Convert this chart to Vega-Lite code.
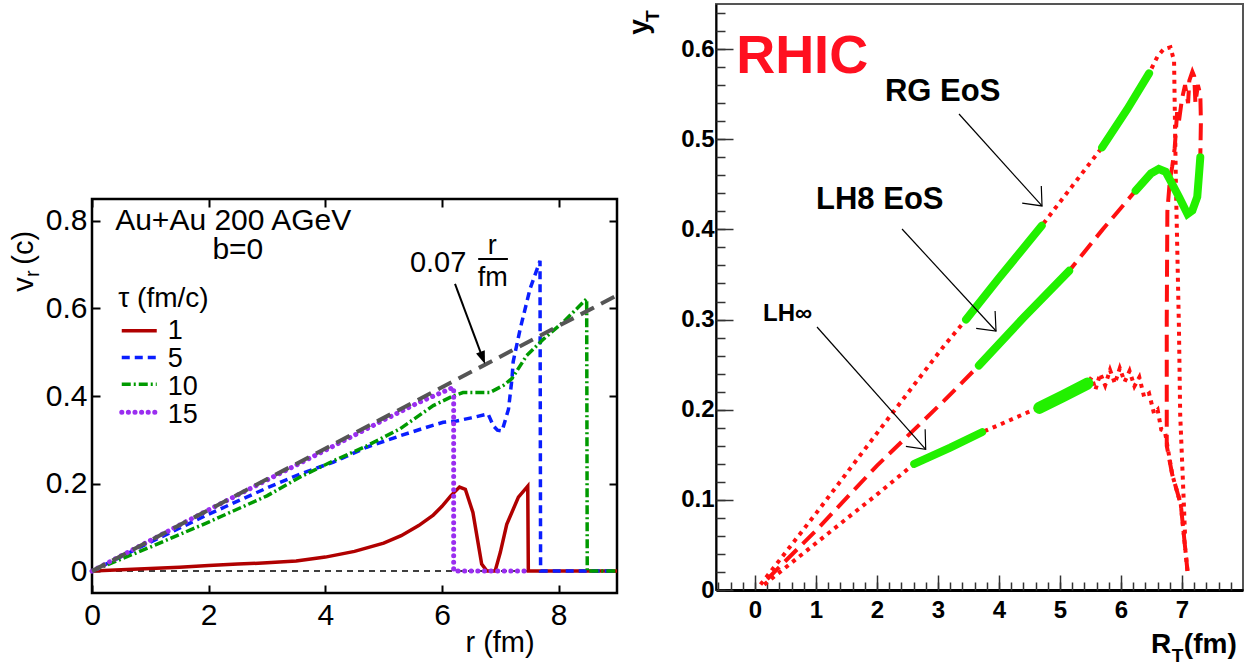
{
  "$schema": "https://vega.github.io/schema/vega-lite/v6.json",
  "background": "white",
  "padding": {"left": 8, "top": 3, "right": 0, "bottom": 0},
  "config": {"view": {"stroke": null}, "font": "Liberation Sans", "axis": {"grid": false, "labelColor": "black"}},
  "datasets": {
    "left": [
      {"s":"1","r":0,"v":0},{"s":"1","r":0.5,"v":0.003},{"s":"1","r":1,"v":0.006},{"s":"1","r":1.5,"v":0.009},{"s":"1","r":2,"v":0.013},{"s":"1","r":2.5,"v":0.016},{"s":"1","r":3,"v":0.019},{"s":"1","r":3.5,"v":0.023},{"s":"1","r":4,"v":0.032},{"s":"1","r":4.5,"v":0.045},{"s":"1","r":5,"v":0.064},{"s":"1","r":5.3,"v":0.081},{"s":"1","r":5.6,"v":0.104},{"s":"1","r":5.85,"v":0.128},{"s":"1","r":6.0,"v":0.148},{"s":"1","r":6.15,"v":0.172},{"s":"1","r":6.3,"v":0.192},{"s":"1","r":6.4,"v":0.187},{"s":"1","r":6.53,"v":0.134},{"s":"1","r":6.68,"v":0.016},{"s":"1","r":6.77,"v":0},{"s":"1","r":6.91,"v":0},{"s":"1","r":7.0,"v":0.043},{"s":"1","r":7.11,"v":0.107},{"s":"1","r":7.31,"v":0.169},{"s":"1","r":7.47,"v":0.194},{"s":"1","r":7.48,"v":0},{"s":"1","r":9,"v":0},
      {"s":"5","r":0,"v":0},{"s":"5","r":1,"v":0.066},{"s":"5","r":2,"v":0.13},{"s":"5","r":3,"v":0.19},{"s":"5","r":3.57,"v":0.222},{"s":"5","r":4.14,"v":0.249},{"s":"5","r":4.71,"v":0.283},{"s":"5","r":5.28,"v":0.309},{"s":"5","r":5.7,"v":0.327},{"s":"5","r":6.02,"v":0.34},{"s":"5","r":6.25,"v":0.343},{"s":"5","r":6.5,"v":0.35},{"s":"5","r":6.79,"v":0.359},{"s":"5","r":6.88,"v":0.332},{"s":"5","r":6.95,"v":0.322},{"s":"5","r":7.03,"v":0.32},{"s":"5","r":7.14,"v":0.37},{"s":"5","r":7.2,"v":0.44},{"s":"5","r":7.22,"v":0.478},{"s":"5","r":7.34,"v":0.553},{"s":"5","r":7.51,"v":0.645},{"s":"5","r":7.63,"v":0.69},{"s":"5","r":7.68,"v":0.709},{"s":"5","r":7.69,"v":0},{"s":"5","r":9,"v":0},
      {"s":"10","r":0,"v":0},{"s":"10","r":1,"v":0.055},{"s":"10","r":2,"v":0.112},{"s":"10","r":3,"v":0.172},{"s":"10","r":3.57,"v":0.215},{"s":"10","r":4.14,"v":0.252},{"s":"10","r":4.71,"v":0.286},{"s":"10","r":5.28,"v":0.325},{"s":"10","r":5.85,"v":0.378},{"s":"10","r":6.19,"v":0.4},{"s":"10","r":6.36,"v":0.408},{"s":"10","r":6.82,"v":0.408},{"s":"10","r":7.05,"v":0.424},{"s":"10","r":7.2,"v":0.44},{"s":"10","r":7.45,"v":0.492},{"s":"10","r":7.74,"v":0.53},{"s":"10","r":8.08,"v":0.569},{"s":"10","r":8.48,"v":0.622},{"s":"10","r":8.49,"v":0},{"s":"10","r":9,"v":0},
      {"s":"15","r":0,"v":0},{"s":"15","r":1,"v":0.07},{"s":"15","r":2,"v":0.14},{"s":"15","r":3,"v":0.208},{"s":"15","r":4,"v":0.276},{"s":"15","r":5,"v":0.345},{"s":"15","r":5.6,"v":0.385},{"s":"15","r":6.2,"v":0.42},{"s":"15","r":6.2,"v":0},{"s":"15","r":7.5,"v":0},
      {"s":"g","r":0,"v":0},{"s":"g","r":9,"v":0.63}
    ],
    "right": [
      {"c":"RG","R":0.09,"y":0.006},{"c":"RG","R":1.0,"y":0.085},{"c":"RG","R":2.0,"y":0.174},{"c":"RG","R":3.1,"y":0.271},{"c":"RG","R":3.46,"y":0.3},{"c":"RG","R":4.0,"y":0.346},{"c":"RG","R":4.7,"y":0.404},{"c":"RG","R":5.2,"y":0.448},{"c":"RG","R":5.69,"y":0.491},{"c":"RG","R":6.1,"y":0.533},{"c":"RG","R":6.46,"y":0.573},{"c":"RG","R":6.6,"y":0.592},{"c":"RG","R":6.7,"y":0.6},{"c":"RG","R":6.81,"y":0.602},{"c":"RG","R":6.87,"y":0.587},{"c":"RG","R":6.88,"y":0.54},{"c":"RG","R":6.9,"y":0.45},{"c":"RG","R":6.95,"y":0.29},{"c":"RG","R":6.97,"y":0.195},{"c":"RG","R":7.03,"y":0.096},{"c":"RG","R":7.05,"y":0.06},
      {"c":"LH8","R":0.2,"y":0.012},{"c":"LH8","R":1.0,"y":0.066},{"c":"LH8","R":2.0,"y":0.138},{"c":"LH8","R":3.1,"y":0.21},{"c":"LH8","R":3.67,"y":0.249},{"c":"LH8","R":4.4,"y":0.302},{"c":"LH8","R":5.15,"y":0.354},{"c":"LH8","R":5.7,"y":0.4},{"c":"LH8","R":6.24,"y":0.443},{"c":"LH8","R":6.49,"y":0.462},{"c":"LH8","R":6.62,"y":0.467},{"c":"LH8","R":6.73,"y":0.464},{"c":"LH8","R":6.81,"y":0.454},{"c":"LH8","R":6.95,"y":0.436},{"c":"LH8","R":7.09,"y":0.417},{"c":"LH8","R":7.17,"y":0.421},{"c":"LH8","R":7.25,"y":0.436},{"c":"LH8","R":7.28,"y":0.462},{"c":"LH8","R":7.3,"y":0.48},{"c":"LH8","R":7.31,"y":0.52},{"c":"LH8","R":7.3,"y":0.55},{"c":"LH8","R":7.26,"y":0.56},{"c":"LH8","R":7.22,"y":0.54},{"c":"LH8","R":7.2,"y":0.57},{"c":"LH8","R":7.17,"y":0.575},{"c":"LH8","R":7.12,"y":0.565},{"c":"LH8","R":7.1,"y":0.54},{"c":"LH8","R":7.05,"y":0.56},{"c":"LH8","R":7.0,"y":0.545},{"c":"LH8","R":6.95,"y":0.52},{"c":"LH8","R":6.92,"y":0.53},{"c":"LH8","R":6.88,"y":0.49},{"c":"LH8","R":6.84,"y":0.47},{"c":"LH8","R":6.8,"y":0.454},{"c":"LH8","R":6.76,"y":0.42},{"c":"LH8","R":6.75,"y":0.3},{"c":"LH8","R":6.75,"y":0.16},{"c":"LH8","R":6.84,"y":0.128},{"c":"LH8","R":6.98,"y":0.095},{"c":"LH8","R":7.09,"y":0.021},
      {"c":"LHI","R":0.15,"y":0.006},{"c":"LHI","R":1.0,"y":0.052},{"c":"LHI","R":2.0,"y":0.106},{"c":"LHI","R":2.61,"y":0.14},{"c":"LHI","R":3.2,"y":0.158},{"c":"LHI","R":3.72,"y":0.175},{"c":"LHI","R":4.0,"y":0.183},{"c":"LHI","R":4.3,"y":0.192},{"c":"LHI","R":4.57,"y":0.2},{"c":"LHI","R":4.66,"y":0.202},{"c":"LHI","R":5.05,"y":0.215},{"c":"LHI","R":5.45,"y":0.229},{"c":"LHI","R":5.52,"y":0.236},{"c":"LHI","R":5.58,"y":0.222},{"c":"LHI","R":5.66,"y":0.24},{"c":"LHI","R":5.74,"y":0.227},{"c":"LHI","R":5.82,"y":0.244},{"c":"LHI","R":5.9,"y":0.229},{"c":"LHI","R":5.98,"y":0.246},{"c":"LHI","R":6.06,"y":0.231},{"c":"LHI","R":6.14,"y":0.243},{"c":"LHI","R":6.22,"y":0.226},{"c":"LHI","R":6.3,"y":0.236},{"c":"LHI","R":6.38,"y":0.214},{"c":"LHI","R":6.46,"y":0.218},{"c":"LHI","R":6.54,"y":0.196},{"c":"LHI","R":6.6,"y":0.2},{"c":"LHI","R":6.66,"y":0.178},{"c":"LHI","R":6.72,"y":0.176},{"c":"LHI","R":6.76,"y":0.16},{"c":"LHI","R":6.84,"y":0.128},{"c":"LHI","R":6.98,"y":0.095},{"c":"LHI","R":7.09,"y":0.021},
      {"c":"gA","R":3.46,"y":0.3},{"c":"gA","R":4.0,"y":0.346},{"c":"gA","R":4.7,"y":0.404},
      {"c":"gB","R":5.69,"y":0.491},{"c":"gB","R":6.1,"y":0.533},{"c":"gB","R":6.46,"y":0.573},
      {"c":"gC","R":3.67,"y":0.249},{"c":"gC","R":4.4,"y":0.302},{"c":"gC","R":5.15,"y":0.354},
      {"c":"gD","R":6.24,"y":0.443},{"c":"gD","R":6.49,"y":0.462},{"c":"gD","R":6.62,"y":0.467},{"c":"gD","R":6.73,"y":0.464},{"c":"gD","R":6.81,"y":0.454},{"c":"gD","R":6.95,"y":0.436},{"c":"gD","R":7.09,"y":0.417},{"c":"gD","R":7.17,"y":0.421},{"c":"gD","R":7.25,"y":0.436},{"c":"gD","R":7.28,"y":0.462},{"c":"gD","R":7.3,"y":0.48},
      {"c":"gE","R":2.61,"y":0.14},{"c":"gE","R":3.2,"y":0.158},{"c":"gE","R":3.72,"y":0.175},
      {"c":"gF","R":4.66,"y":0.202},{"c":"gF","R":5.05,"y":0.215},{"c":"gF","R":5.45,"y":0.229}
    ]
  },
  "spacing": -2,
  "hconcat": [
    {
      "spacing": 0,
      "vconcat": [
        {"width": 10, "height": 192, "data": {"values": []}, "mark": "point"},
        {
          "width": 525,
          "height": 394,
          "view": {"stroke": "black", "strokeWidth": 2.5},
          "resolve": {"axis": {"x": "independent", "y": "independent"}},
          "layer": [
            {
              "data": {"values": [{}]},
              "layer": [
                {"mark": {"type": "rule", "color": "black", "strokeWidth": 1.5, "strokeDash": [6, 5]}, "encoding": {"y": {"datum": 0}}},
                {
                  "data": {"name": "left"},
                  "transform": [{"filter": "datum.s == '1'"}],
                  "mark": {"type": "line", "color": "#b00000", "strokeWidth": 3.5},
                  "encoding": {
                    "x": {"field": "r", "type": "quantitative", "scale": {"domain": [0, 9], "nice": false, "zero": false},
                      "axis": {"orient": "bottom", "values": [0, 2, 4, 6, 8], "format": "d", "tickSize": -8, "tickWidth": 2, "tickColor": "black", "domain": false, "labelFontSize": 30, "labelPadding": 15, "labelFont": "Liberation Sans", "title": null, "labelFlush": false}},
                    "y": {"field": "v", "type": "quantitative", "scale": {"domain": [-0.05, 0.85], "nice": false, "zero": false},
                      "axis": {"orient": "left", "values": [0, 0.2, 0.4, 0.6, 0.8], "labelExpr": "datum.value == 0 ? '0' : format(datum.value, '.1f')", "tickSize": -8, "tickWidth": 2, "tickColor": "black", "domain": false, "labelFontSize": 30, "labelPadding": 13, "labelFont": "Liberation Sans", "title": null, "labelFlush": false}},
                    "order": {"value": null}
                  }
                },
                {"data": {"name": "left"}, "transform": [{"filter": "datum.s == '5'"}], "mark": {"type": "line", "color": "#0a1eff", "strokeWidth": 3.5, "strokeDash": [8, 5]}, "encoding": {"x": {"field": "r", "type": "quantitative"}, "y": {"field": "v", "type": "quantitative"}, "order": {"value": null}}},
                {"data": {"name": "left"}, "transform": [{"filter": "datum.s == '10'"}], "mark": {"type": "line", "color": "#009a00", "strokeWidth": 3.5, "strokeDash": [9, 3, 2, 3]}, "encoding": {"x": {"field": "r", "type": "quantitative"}, "y": {"field": "v", "type": "quantitative"}, "order": {"value": null}}},
                {"data": {"name": "left"}, "transform": [{"filter": "datum.s == '15'"}], "mark": {"type": "line", "color": "#9a2ef0", "strokeWidth": 5, "strokeDash": [0.1, 6.5], "strokeCap": "round"}, "encoding": {"x": {"field": "r", "type": "quantitative"}, "y": {"field": "v", "type": "quantitative"}, "order": {"value": null}}},
                {"data": {"name": "left"}, "transform": [{"filter": "datum.s == 'g'"}], "mark": {"type": "line", "color": "#555555", "strokeWidth": 4, "strokeDash": [15, 8]}, "encoding": {"x": {"field": "r", "type": "quantitative"}, "y": {"field": "v", "type": "quantitative"}, "order": {"value": null}}},
                {"mark": {"type": "rule", "color": "#b00000", "strokeWidth": 3.5}, "encoding": {"x": {"datum": 0.51}, "x2": {"datum": 1.11}, "y": {"datum": 0.549}}},
                {"mark": {"type": "rule", "color": "#0a1eff", "strokeWidth": 3.5, "strokeDash": [8, 5]}, "encoding": {"x": {"datum": 0.51}, "x2": {"datum": 1.11}, "y": {"datum": 0.488}}},
                {"mark": {"type": "rule", "color": "#009a00", "strokeWidth": 3.5, "strokeDash": [9, 3, 2, 3]}, "encoding": {"x": {"datum": 0.51}, "x2": {"datum": 1.11}, "y": {"datum": 0.427}}},
                {"mark": {"type": "rule", "color": "#9a2ef0", "strokeWidth": 5, "strokeDash": [0.1, 6.5], "strokeCap": "round"}, "encoding": {"x": {"datum": 0.51}, "x2": {"datum": 1.11}, "y": {"datum": 0.363}}},
                {"mark": {"type": "text", "text": "Au+Au 200 AGeV", "fontSize": 30, "align": "center", "baseline": "alphabetic"}, "encoding": {"x": {"datum": 2.42}, "y": {"datum": 0.78}}},
                {"mark": {"type": "text", "text": "b=0", "fontSize": 30, "align": "center", "baseline": "alphabetic"}, "encoding": {"x": {"datum": 2.5}, "y": {"datum": 0.712}}},
                {"mark": {"type": "text", "text": "τ (fm/c)", "fontSize": 28, "align": "left", "baseline": "alphabetic"}, "encoding": {"x": {"datum": 0.45}, "y": {"datum": 0.603}}},
                {"mark": {"type": "text", "text": "1", "fontSize": 27, "align": "left", "baseline": "alphabetic"}, "encoding": {"x": {"datum": 1.3}, "y": {"datum": 0.53}}},
                {"mark": {"type": "text", "text": "5", "fontSize": 27, "align": "left", "baseline": "alphabetic"}, "encoding": {"x": {"datum": 1.3}, "y": {"datum": 0.466}}},
                {"mark": {"type": "text", "text": "10", "fontSize": 27, "align": "left", "baseline": "alphabetic"}, "encoding": {"x": {"datum": 1.3}, "y": {"datum": 0.402}}},
                {"mark": {"type": "text", "text": "15", "fontSize": 27, "align": "left", "baseline": "alphabetic"}, "encoding": {"x": {"datum": 1.3}, "y": {"datum": 0.338}}},
                {"mark": {"type": "text", "text": "0.07", "fontSize": 29, "align": "left", "baseline": "alphabetic"}, "encoding": {"x": {"datum": 5.45}, "y": {"datum": 0.683}}},
                {"mark": {"type": "text", "text": "r", "fontSize": 27, "align": "center", "baseline": "alphabetic"}, "encoding": {"x": {"datum": 6.86}, "y": {"datum": 0.725}}},
                {"mark": {"type": "rule", "color": "black", "strokeWidth": 2}, "encoding": {"x": {"datum": 6.62}, "x2": {"datum": 7.13}, "y": {"datum": 0.713}}},
                {"mark": {"type": "text", "text": "fm", "fontSize": 27, "align": "center", "baseline": "alphabetic"}, "encoding": {"x": {"datum": 6.87}, "y": {"datum": 0.651}}},
                {"mark": {"type": "rule", "color": "black", "strokeWidth": 2}, "encoding": {"x": {"datum": 6.223}, "y": {"datum": 0.656}, "x2": {"datum": 6.66}, "y2": {"datum": 0.5}}},
                {"mark": {"type": "point", "shape": "M 0 0 L -0.5 1.4 L 0.5 1.4 Z", "size": 346, "filled": true, "color": "black", "opacity": 1, "angle": 159.4}, "encoding": {"x": {"datum": 6.737}, "y": {"datum": 0.473}}},
                {"mark": {"type": "text", "text": "v", "fontSize": 29, "angle": 270, "align": "left", "baseline": "alphabetic"}, "encoding": {"x": {"datum": -1.011}, "y": {"datum": 0.638}}},
                {"mark": {"type": "text", "text": "r", "fontSize": 20, "angle": 270, "align": "left", "baseline": "alphabetic"}, "encoding": {"x": {"datum": -0.909}, "y": {"datum": 0.672}}},
                {"mark": {"type": "text", "text": "(c)", "fontSize": 29, "angle": 270, "align": "left", "baseline": "alphabetic"}, "encoding": {"x": {"datum": -1.011}, "y": {"datum": 0.7}}},
                {"mark": {"type": "text", "text": "r (fm)", "fontSize": 29, "align": "center", "baseline": "alphabetic"}, "encoding": {"x": {"datum": 6.995}, "y": {"datum": -0.185}}}
              ]
            },
            {
              "data": {"values": [{}]},
              "mark": {"type": "point", "opacity": 0},
              "encoding": {
                "x": {"datum": 0, "type": "quantitative", "scale": {"domain": [0, 9], "nice": false, "zero": false}, "axis": {"orient": "top", "values": [0, 2, 4, 6, 8], "labels": false, "domain": false, "tickSize": -8, "tickWidth": 2, "tickColor": "black", "title": null}},
                "y": {"datum": 0, "type": "quantitative", "scale": {"domain": [-0.05, 0.85], "nice": false, "zero": false}, "axis": {"orient": "right", "values": [0, 0.2, 0.4, 0.6, 0.8], "labels": false, "domain": false, "tickSize": -8, "tickWidth": 2, "tickColor": "black", "title": null}}
              }
            }
          ]
        }
      ]
    },
    {
      "width": 527,
      "height": 586,
      "view": {"stroke": "#555555", "strokeWidth": 2},
      "resolve": {"axis": {"x": "independent", "y": "independent"}},
      "layer": [
        {
          "data": {"values": [{}]},
          "layer": [
            {
              "data": {"name": "right"},
              "transform": [{"filter": "datum.c == 'RG'"}],
              "mark": {"type": "line", "color": "#ff1010", "strokeWidth": 4, "strokeDash": [4, 5]},
              "encoding": {
                "x": {"field": "R", "type": "quantitative", "scale": {"domain": [-0.64, 8], "nice": false, "zero": false},
                  "axis": {"orient": "bottom", "values": [0, 1, 2, 3, 4, 5, 6, 7], "format": "d", "tickSize": -15,
                    "labelPadding": 23, "labelFontSize": 24, "labelFontWeight": "bold", "labelFont": "Liberation Sans",
                    "domainColor": "black", "domainWidth": 3, "tickColor": "#333333", "tickWidth": 1.5, "title": null, "labelFlush": false, "labelOverlap": false}},
                "y": {"field": "y", "type": "quantitative", "scale": {"domain": [0, 0.65], "nice": false, "zero": false},
                  "axis": {"orient": "left", "values": [0, 0.1, 0.2, 0.3, 0.4, 0.5, 0.6], "tickSize": -17,
                    "labelExpr": "datum.value == 0 ? '0' : format(datum.value, '.1f')",
                    "labelPadding": 19, "labelFontSize": 24, "labelFontWeight": "bold", "labelFont": "Liberation Sans",
                    "domainColor": "black", "domainWidth": 2, "tickColor": "#333333", "tickWidth": 1.5, "title": null, "labelFlush": false, "labelOverlap": false}},
                "order": {"value": null}
              }
            },
            {"data": {"name": "right"}, "transform": [{"filter": "datum.c == 'LH8'"}], "mark": {"type": "line", "color": "#ff1010", "strokeWidth": 4, "strokeDash": [17, 8]}, "encoding": {"x": {"field": "R", "type": "quantitative"}, "y": {"field": "y", "type": "quantitative"}, "order": {"value": null}}},
            {"data": {"name": "right"}, "transform": [{"filter": "datum.c == 'LHI'"}], "mark": {"type": "line", "color": "#ff1010", "strokeWidth": 4, "strokeDash": [4, 5]}, "encoding": {"x": {"field": "R", "type": "quantitative"}, "y": {"field": "y", "type": "quantitative"}, "order": {"value": null}}},
            {"data": {"name": "right"}, "transform": [{"filter": "indexof(['gA','gB','gC','gD','gE'], datum.c) >= 0"}], "mark": {"type": "line", "color": "#22f000", "strokeWidth": 8, "strokeCap": "round"}, "encoding": {"x": {"field": "R", "type": "quantitative"}, "y": {"field": "y", "type": "quantitative"}, "detail": {"field": "c"}, "order": {"value": null}}},
            {"data": {"name": "right"}, "transform": [{"filter": "datum.c == 'gF'"}], "mark": {"type": "line", "color": "#22f000", "strokeWidth": 12, "strokeCap": "round"}, "encoding": {"x": {"field": "R", "type": "quantitative"}, "y": {"field": "y", "type": "quantitative"}, "order": {"value": null}}},
            {"mark": {"type": "rule", "color": "black", "strokeWidth": 1.2}, "encoding": {"x": {"datum": 3.344}, "y": {"datum": 0.528}, "x2": {"datum": 4.705}, "y2": {"datum": 0.426}}},
            {"mark": {"type": "point", "shape": "M -0.84 1 L 0 0 L 0.84 1", "size": 940, "filled": false, "stroke": "black", "strokeWidth": 1.2, "opacity": 1, "angle": 137.9}, "encoding": {"x": {"datum": 4.705}, "y": {"datum": 0.426}}},
            {"mark": {"type": "rule", "color": "black", "strokeWidth": 1.2}, "encoding": {"x": {"datum": 2.41}, "y": {"datum": 0.4004}, "x2": {"datum": 3.951}, "y2": {"datum": 0.2873}}},
            {"mark": {"type": "point", "shape": "M -0.84 1 L 0 0 L 0.84 1", "size": 940, "filled": false, "stroke": "black", "strokeWidth": 1.2, "opacity": 1, "angle": 137.3}, "encoding": {"x": {"datum": 3.951}, "y": {"datum": 0.2873}}},
            {"mark": {"type": "rule", "color": "black", "strokeWidth": 1.2}, "encoding": {"x": {"datum": 1.016}, "y": {"datum": 0.2917}, "x2": {"datum": 2.798}, "y2": {"datum": 0.156}}},
            {"mark": {"type": "point", "shape": "M -0.84 1 L 0 0 L 0.84 1", "size": 940, "filled": false, "stroke": "black", "strokeWidth": 1.2, "opacity": 1, "angle": 138.4}, "encoding": {"x": {"datum": 2.798}, "y": {"datum": 0.156}}},
            {"mark": {"type": "text", "text": "RHIC", "fontSize": 54, "fontWeight": "bold", "color": "#ff1020", "align": "left", "baseline": "alphabetic"}, "encoding": {"x": {"datum": -0.31}, "y": {"datum": 0.5735}}},
            {"mark": {"type": "text", "text": "RG EoS", "fontSize": 31, "fontWeight": "bold", "align": "left", "baseline": "alphabetic"}, "encoding": {"x": {"datum": 2.13}, "y": {"datum": 0.5424}}},
            {"mark": {"type": "text", "text": "LH8 EoS", "fontSize": 31, "fontWeight": "bold", "align": "left", "baseline": "alphabetic"}, "encoding": {"x": {"datum": 1.0}, "y": {"datum": 0.4226}}},
            {"mark": {"type": "text", "text": "LH∞", "fontSize": 24, "fontWeight": "bold", "align": "left", "baseline": "alphabetic"}, "encoding": {"x": {"datum": 0.13}, "y": {"datum": 0.2984}}},
            {"mark": {"type": "text", "text": "y", "fontSize": 28, "fontWeight": "bold", "angle": 270, "align": "center", "baseline": "alphabetic"}, "encoding": {"x": {"datum": -1.75}, "y": {"datum": 0.6245}}},
            {"mark": {"type": "text", "text": "T", "fontSize": 19, "fontWeight": "bold", "angle": 270, "align": "center", "baseline": "alphabetic"}, "encoding": {"x": {"datum": -1.575}, "y": {"datum": 0.6365}}},
            {"mark": {"type": "text", "text": "R", "fontSize": 28, "fontWeight": "bold", "align": "left", "baseline": "alphabetic"}, "encoding": {"x": {"datum": 6.49}, "y": {"datum": -0.0699}}},
            {"mark": {"type": "text", "text": "T", "fontSize": 19, "fontWeight": "bold", "align": "left", "baseline": "alphabetic"}, "encoding": {"x": {"datum": 6.83}, "y": {"datum": -0.0799}}},
            {"mark": {"type": "text", "text": "(fm)", "fontSize": 28, "fontWeight": "bold", "align": "left", "baseline": "alphabetic"}, "encoding": {"x": {"datum": 7.03}, "y": {"datum": -0.0699}}}
          ]
        },
        {
          "data": {"values": [{}]},
          "mark": {"type": "point", "opacity": 0},
          "encoding": {
            "x": {"datum": 0, "type": "quantitative", "scale": {"domain": [-0.64, 8], "nice": false, "zero": false},
              "axis": {"orient": "bottom", "values": [-0.6,-0.4,-0.2,0,0.2,0.4,0.6,0.8,1,1.2,1.4,1.6,1.8,2,2.2,2.4,2.6,2.8,3,3.2,3.4,3.6,3.8,4,4.2,4.4,4.6,4.8,5,5.2,5.4,5.6,5.8,6,6.2,6.4,6.6,6.8,7,7.2,7.4,7.6,7.8], "labels": false, "domain": false, "tickSize": -8, "tickWidth": 1.5, "tickColor": "#333333", "title": null}},
            "y": {"datum": 0, "type": "quantitative", "scale": {"domain": [0, 0.65], "nice": false, "zero": false},
              "axis": {"orient": "left", "values": [0,0.02,0.04,0.06,0.08,0.1,0.12,0.14,0.16,0.18,0.2,0.22,0.24,0.26,0.28,0.3,0.32,0.34,0.36,0.38,0.4,0.42,0.44,0.46,0.48,0.5,0.52,0.54,0.56,0.58,0.6,0.62,0.64], "labels": false, "domain": false, "tickSize": -9, "tickWidth": 1.5, "tickColor": "#333333", "title": null}}
          }
        }
      ]
    }
  ]
}
